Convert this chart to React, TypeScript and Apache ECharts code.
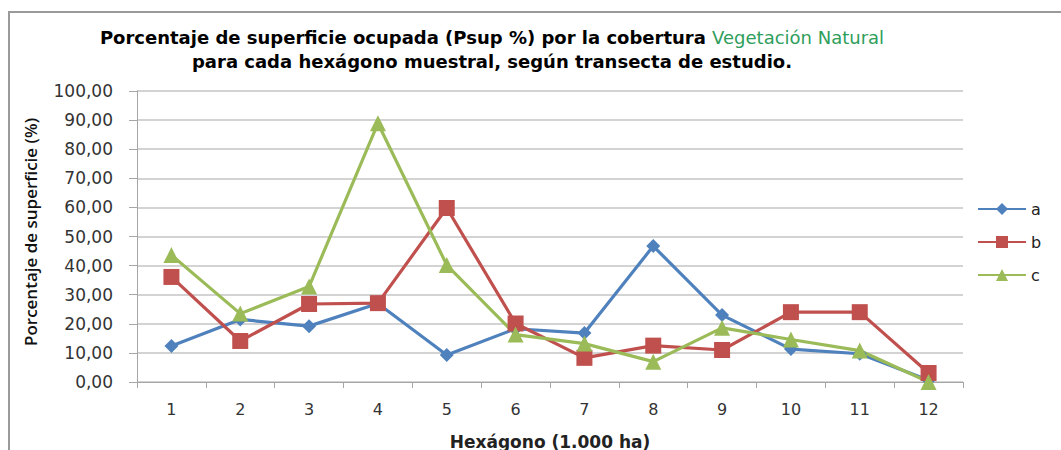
import React, { useEffect, useRef } from "react";
import * as echarts from "echarts";

const categories = ["1", "2", "3", "4", "5", "6", "7", "8", "9", "10", "11", "12"];
const seriesA = [12.4, 21.5, 19.2, 27.0, 9.3, 18.3, 16.8, 46.7, 23.0, 11.3, 9.7, 0.6];
const seriesB = [36.1, 14.1, 26.8, 27.1, 59.8, 20.1, 8.3, 12.5, 11.0, 24.0, 24.0, 3.1];
const seriesC = [43.6, 23.5, 32.8, 88.9, 40.2, 16.3, 13.2, 7.0, 18.6, 14.6, 10.8, 0.0];
const seriesNames = ["a", "b", "c"];
const yTicks = { min: 0, max: 100, interval: 10 };

const BLUE = "#4F81BD";
const RED = "#C0504D";
const GREEN = "#9BBB59";

export default function App() {
  const ref = useRef<HTMLDivElement>(null);
  useEffect(() => {
    document.body.style.margin = "0";
    const chart = echarts.init(ref.current!, undefined, { renderer: "svg" });
    const mk = (name: string, data: number[], color: string, symbol: string, size: number) => ({
      name,
      type: "line",
      data,
      symbol,
      symbolSize: size,
      showAllSymbol: true,
      lineStyle: { color, width: 3.2 },
      itemStyle: { color },
    });
    chart.setOption({
      animation: false,
      backgroundColor: "#ffffff",
      graphic: [
        {
          type: "rect",
          shape: { x: 9, y: 12, width: 1200, height: 600 },
          style: { fill: "none", stroke: "#9a9a9a", lineWidth: 2 },
          z: -1,
        },
        {
          type: "text",
          x: 492,
          y: 25,
          style: {
            text: "{b|Porcentaje de superficie ocupada (Psup %) por la cobertura }{g|Vegetación Natural}\n{b|para cada hexágono muestral, según transecta de estudio.}",
            align: "center",
            verticalAlign: "top",
            rich: {
              b: { fontFamily: "DejaVu Sans", fontWeight: "bold", fontSize: 18, fill: "#000000", lineHeight: 24 },
              g: { fontFamily: "DejaVu Sans", fontWeight: "normal", fontSize: 18, fill: "#2E9E5B", lineHeight: 24 },
            },
          },
        },
        {
          type: "text",
          x: 30,
          y: 232,
          rotation: Math.PI / 2,
          style: {
            text: "Porcentaje de superficie (%)",
            align: "center",
            verticalAlign: "middle",
            fontFamily: "Open Sans",
            fontWeight: 600,
            fontSize: 17,
            fill: "#111",
          },
        },
      ],
      grid: { left: 137, right: 98, top: 91, bottom: 68, outerBoundsMode: "none", containLabel: false },
      legend: {
        orient: "vertical",
        left: 972,
        top: 196,
        itemWidth: 48,
        itemHeight: 15,
        itemGap: 17,
        data: seriesNames,
        textStyle: { fontFamily: "DejaVu Sans", fontSize: 16, color: "#222" },
      },
      xAxis: {
        type: "category",
        data: categories,
        boundaryGap: true,
        name: "Hexágono (1.000 ha)",
        nameLocation: "middle",
        nameGap: 51,
        nameTextStyle: { fontFamily: "DejaVu Sans", fontWeight: "bold", fontSize: 17, color: "#222" },
        axisLine: { lineStyle: { color: "#a6a6a6", width: 1 } },
        axisTick: { show: true, alignWithLabel: false, length: 6, lineStyle: { color: "#a6a6a6" } },
        axisLabel: { fontFamily: "DejaVu Sans", fontSize: 16, color: "#333", margin: 19 },
        splitLine: { show: false },
      },
      yAxis: {
        type: "value",
        min: yTicks.min,
        max: yTicks.max,
        interval: yTicks.interval,
        axisLine: { show: true, lineStyle: { color: "#a6a6a6", width: 1 } },
        axisTick: { show: true, length: 8, lineStyle: { color: "#a6a6a6" } },
        axisLabel: {
          fontFamily: "DejaVu Sans",
          fontSize: 17,
          color: "#333",
          margin: 24,
          formatter: (v: number) => v.toFixed(2).replace(".", ","),
        },
        splitLine: { show: true, lineStyle: { color: "#c4c4c4", width: 1.5 } },
      },
      series: [
        mk(seriesNames[0], seriesA, BLUE, "diamond", 14),
        mk(seriesNames[1], seriesB, RED, "rect", 16),
        mk(seriesNames[2], seriesC, GREEN, "triangle", 16),
      ],
    });
    return () => chart.dispose();
  }, []);
  return <div ref={ref} style={{ width: 1061, height: 450 }} />;
}
